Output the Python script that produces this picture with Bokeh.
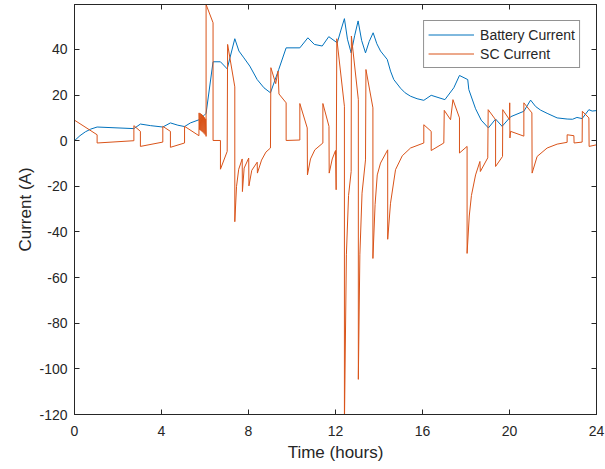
from bokeh.plotting import figure
from bokeh.models import Range1d, LinearAxis, FixedTicker, CustomJSTickFormatter
from bokeh.embed import file_html
from bokeh.resources import INLINE

# ---- data ----
bat_t = [0, 0.25, 0.5, 0.75, 1.04, 2.73, 3.03, 3.5, 4.06, 4.41, 4.75, 5.06, 5.33, 5.73, 5.95, 6.05,
         6.37, 6.71, 7.02, 7.37, 7.56, 7.79, 8.06, 8.4, 8.71, 9.01, 9.39, 9.73, 10.36, 10.73, 11.03,
         11.39, 11.69, 12.08, 12.25, 12.41, 12.55, 12.72, 12.88, 13.04, 13.2, 13.38, 13.55, 13.73,
         13.9, 14.07, 14.38, 14.53, 14.68, 14.99, 15.2, 15.45, 15.75, 16.06, 16.4, 17.03, 17.44,
         17.7, 18.08, 18.13, 18.44, 18.7, 19.03, 19.36, 19.66, 20.05, 20.66, 20.97, 21.2, 21.43,
         21.73, 22.19, 22.65, 22.9, 23.1, 23.34, 23.65, 23.8, 24.0]
bat_i = [0, 2.2, 3.9, 5.1, 6.0, 5.3, 7.3, 6.6, 6.0, 7.8, 6.8, 6.2, 7.8, 9.2, 11.0, 12.0,
         34.6, 34.6, 31.5, 44.7, 39.3, 36.3, 32.7, 26.8, 23.2, 21.0, 31.2, 40.7, 40.7, 45.1, 42.2,
         41.5, 45.6, 42.9, 48.5, 53.5, 44.5, 38.5, 46.0, 52.5, 44.0, 38.5, 43.5, 47.3,
         42.5, 39.3, 35.6, 30.5, 26.8, 23.0, 21.0, 19.5, 18.4, 17.7, 19.9, 18.0, 23.2,
         28.6, 26.8, 22.4, 14.0, 9.0, 5.6, 9.5, 6.3, 10.5, 12.9, 17.8, 15.0, 13.4,
         12.0, 10.0, 9.5, 9.4, 10.2, 9.7, 13.6, 13.0, 13.2]

sc_t = [0, 1.04, 1.04, 2.73, 2.73, 3.03, 3.03, 4.06, 4.06, 4.41, 4.41, 5.06, 5.06, 5.72,
        5.73, 5.755, 5.78, 5.805, 5.83, 5.855, 5.88, 5.905, 5.93, 5.955, 5.98, 6.005, 6.03, 6.05,
        6.05, 6.37, 6.37, 6.71, 6.71, 7.02, 7.04, 7.37, 7.37, 7.45, 7.55, 7.71, 7.72, 7.8, 8.01,
        8.02, 8.15, 8.4, 8.41, 8.6, 8.8, 9.01, 9.03, 9.25, 9.36, 9.40, 9.73, 9.73, 10.36, 10.36,
        10.7, 10.71, 10.85, 11.05, 11.42, 11.42, 11.7, 11.71, 11.85, 12.0, 12.03, 12.06, 12.41,
        12.41, 12.5, 12.6, 12.72, 12.73, 13.05, 13.05, 13.12, 13.22, 13.38, 13.40, 13.72, 13.72,
        13.82, 13.92, 14.07, 14.4, 14.4, 14.53, 14.76, 15.07, 15.45, 16.06, 16.06, 16.4, 16.4,
        16.98, 17.0, 17.29, 17.4, 17.7, 17.7, 18.05, 18.05, 18.15, 18.25, 18.44, 18.64, 18.66,
        19.0, 19.02, 19.36, 19.36, 19.68, 19.69, 20.0, 20.01, 20.02, 20.05, 20.66, 20.66, 21.03,
        21.04, 21.27, 21.73, 22.19, 22.65, 22.65, 22.96, 22.97, 23.34, 23.35, 23.65, 23.66, 24.0]
sc_i = [9.0, 2.6, -1.0, 0.0, 6.6, 4.1, -2.5, -0.6, 6.3, 4.1, -2.9, -1.0, 6.3, 2.2,
        12.2, 4.8, 12.0, 4.5, 11.7, 4.1, 11.3, 3.7, 10.8, 3.2, 10.2, 2.7, 9.6, 1.9,
        59.7, 51.7, 0.1, 0.1, -12.5, -4.7, 42.2, 23.6, -35.5, -20.0, -12.5, -8.0, -22.3, -12.0, -7.6,
        -19.8, -13.0, -9.4, -14.2, -8.5, -5.0, -3.2, 32.0, 25.0, 30.5, 20.5, 16.6, 0.1, 0.3, 16.3,
        5.6, -15.0, -8.0, -4.0, -1.0, 16.3, 6.3, -14.2, -8.0, -4.3, -21.5, 44.7, 15.1,
        -125.0, -50.0, -24.0, -13.5, 45.9, 18.0, -104.6, -50.0, -23.0, -8.4, 31.2, 14.4, -51.6,
        -28.0, -15.0, -9.8, -4.0, -43.2, -27.4, -12.7, -6.6, -3.2, -1.0, 7.0, 4.1, -4.3,
        -1.0, 13.3, 9.2, 18.0, 10.0, -5.4, -2.5, -49.4, -33.0, -24.0, -15.0, -9.1, -13.5,
        -7.5, 13.6, 9.2, -11.3, -6.9, 13.6, 9.2, 16.6, 1.2, 4.1, 2.0, 16.6, 12.2,
        -14.2, -6.9, -3.2, -1.5, -0.7, 2.6, 2.2, -1.0, -0.6, 12.9, 10.0, -2.5, -1.8]

x_ticks = [0, 4, 8, 12, 16, 20, 24]
y_ticks = [-120, -100, -80, -60, -40, -20, 0, 20, 40]

TXT = "#262626"
FONT = "Liberation Sans"

p = figure(frame_width=522, frame_height=410,
           x_range=Range1d(0, 24), y_range=Range1d(-120, 59.7),
           output_backend="svg", toolbar_location=None,
           min_border_left=74, min_border_right=9, min_border_top=4, min_border_bottom=0,
           background_fill_color="white", border_fill_color="white")
p.grid.visible = False
p.outline_line_color = TXT
p.outline_line_width = 1

p.line(bat_t, bat_i, line_color="#0072BD", line_width=1, legend_label="Battery Current")
p.line(sc_t, sc_i, line_color="#D95319", line_width=1, legend_label="SC Current")

plain = CustomJSTickFormatter(code="return String(tick)")

for ax in (p.xaxis[0], p.yaxis[0]):
    ax.major_tick_in = 5
    ax.major_tick_out = 0
    ax.minor_tick_in = 0
    ax.minor_tick_out = 0
    ax.axis_line_color = TXT
    ax.major_tick_line_color = TXT
    ax.major_label_text_color = TXT
    ax.major_label_text_font = FONT
    ax.major_label_text_font_size = "14px"
    ax.axis_label_text_color = TXT
    ax.axis_label_text_font = FONT
    ax.axis_label_text_font_size = "17px"
    ax.axis_label_text_font_style = "normal"
    ax.formatter = plain

p.xaxis[0].ticker = FixedTicker(ticks=x_ticks)
p.yaxis[0].ticker = FixedTicker(ticks=y_ticks)
p.xaxis[0].axis_label = "Time (hours)"
p.yaxis[0].axis_label = "Current (A)"
p.xaxis[0].major_label_standoff = 11
p.xaxis[0].axis_label_standoff = 4
p.yaxis[0].major_label_standoff = 7
p.yaxis[0].axis_label_standoff = 1

blank = CustomJSTickFormatter(code="return ''")
top = LinearAxis(ticker=FixedTicker(ticks=x_ticks), formatter=blank, major_tick_in=5, major_tick_out=0,
                 minor_tick_in=0, minor_tick_out=0, major_label_standoff=0,
                 axis_line_color=TXT, major_tick_line_color=TXT)
right = LinearAxis(ticker=FixedTicker(ticks=y_ticks), formatter=blank, major_tick_in=5, major_tick_out=0,
                   minor_tick_in=0, minor_tick_out=0, major_label_standoff=0,
                   axis_line_color=TXT, major_tick_line_color=TXT)
p.add_layout(top, "above")
p.add_layout(right, "right")

lg = p.legend[0]
lg.location = "top_right"
lg.margin = 16
lg.padding = 4
lg.spacing = 0
lg.glyph_width = 46
lg.glyph_height = 19
lg.label_height = 19
lg.label_standoff = 6
lg.label_text_font = FONT
lg.label_text_font_size = "14px"
lg.label_text_color = TXT
lg.border_line_color = TXT
lg.border_line_width = 1
lg.background_fill_color = "white"
lg.background_fill_alpha = 1

open("out.html", "w").write(file_html(p, INLINE))
